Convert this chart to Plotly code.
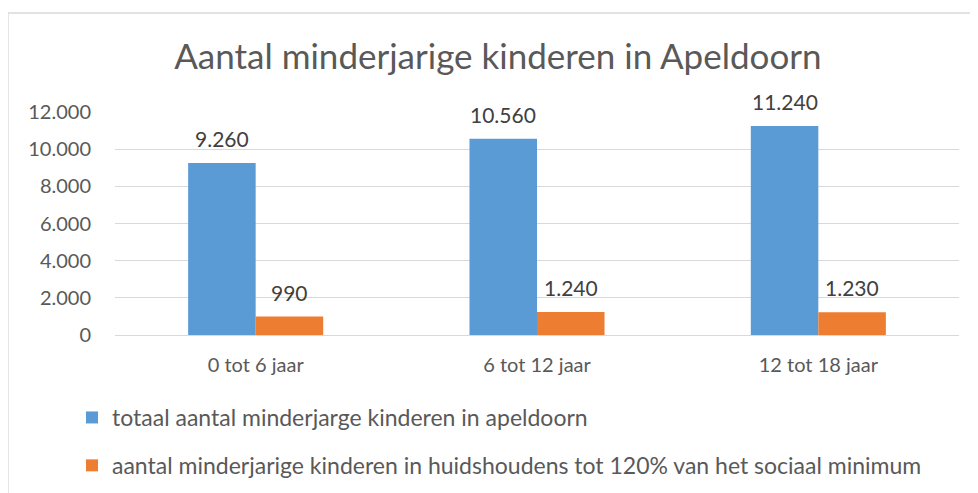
import plotly.graph_objects as go

categories = ["0 tot 6 jaar", "6 tot 12 jaar", "12 tot 18 jaar"]
series_names = [
    "totaal aantal minderjarge kinderen in apeldoorn",
    "aantal minderjarige kinderen in huidshoudens tot 120% van het sociaal minimum",
]
totaal = [9260, 10560, 11240]
minimum = [990, 1240, 1230]
tick_vals = [0, 2000, 4000, 6000, 8000, 10000, 12000]
title_text = "Aantal minderjarige kinderen in Apeldoorn"

colors = ["#5B9BD5", "#ED7D31"]
FONT = "Lato"

fig = go.Figure()
for i, (name, vals) in enumerate(zip(series_names, [totaal, minimum])):
    fig.add_trace(go.Bar(
        x=categories, y=vals, name=name,
        marker=dict(color=colors[i], line=dict(width=0)),
        legendgroup=f"g{i}",
    ))

annotations = []
for i, vals in enumerate([totaal, minimum]):
    for c, v in zip(categories, vals):
        annotations.append(dict(
            x=c, y=v, xref="x", yref="y",
            text=f"{v:,}".replace(",", "."),
            showarrow=False, yanchor="bottom",
            xshift=(-33.75 if i == 0 else 33.75), yshift=10,
            font=dict(family=FONT, size=21, color="#404040"),
        ))

# page body has an 8px margin, so the figure is 970x485 and sits at (8, 8)
W, H = 970, 485
L, T, R, B = 107, 104, 19, 158
PW, PH = W - L - R, H - T - B

fig.update_layout(
    width=W, height=H,
    margin=dict(l=L, r=R, t=T, b=B, autoexpand=False),
    paper_bgcolor="white", plot_bgcolor="white",
    separators=",.",
    barmode="group", bargap=0.52, bargroupgap=0,
    font=dict(family=FONT, color="#595959", size=20),
    title=dict(text=title_text, x=0.505, xanchor="center", y=0.899, yanchor="middle",
               font=dict(family=FONT, size=35, color="#595959")),
    xaxis=dict(showgrid=False, showline=False, ticks="", ticklabelstandoff=16,
               tickangle=0, automargin=False, tickfont=dict(size=20, color="#595959")),
    yaxis=dict(range=[0, 12000], tickvals=tick_vals, tickformat=",d",
               showgrid=True, gridcolor="#D9D9D9", gridwidth=1.3,
               zeroline=True, zerolinecolor="#D9D9D9", zerolinewidth=1.3,
               showline=False, ticks="", ticklabelstandoff=23, automargin=False,
               tickfont=dict(size=20, color="#595959")),
    legend=dict(orientation="v", x=-43 / PW, xref="paper", xanchor="left",
                y=-61 / PH, yref="paper", yanchor="top",
                tracegroupgap=15, font=dict(size=23, color="#595959"),
                bgcolor="rgba(0,0,0,0)", itemclick=False),
    annotations=annotations,
    shapes=[dict(type="rect", xref="paper", yref="paper",
                 x0=-107 / PW, x1=(PW + 18) / PW,
                 y0=-1.0, y1=(PH + 99) / PH,
                 line=dict(color="#D9D9D9", width=1.3), layer="below")],
)

fig.write_html("out.html")
